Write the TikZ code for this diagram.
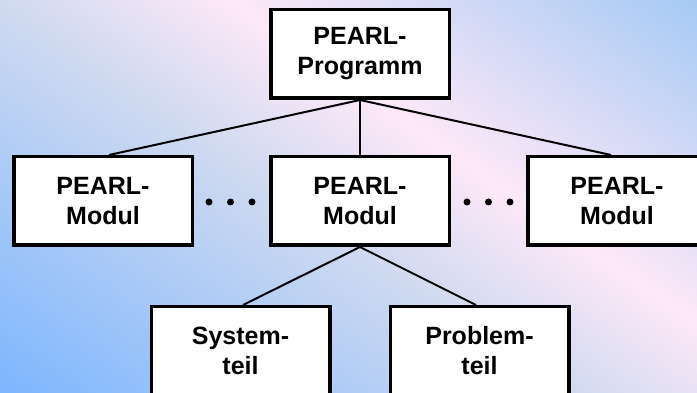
\documentclass[tikz,border=0pt]{standalone}
\usepackage{fontspec}
\setmainfont{Liberation Sans}
\definecolor{bgblue}{RGB}{120,180,255}
\definecolor{bglav}{RGB}{208,218,240}
\definecolor{bgpink}{RGB}{253,232,248}
\definecolor{bgsky}{RGB}{160,200,244}
% one shading along the diagonal: blue - lavender - pink - sky blue
\pgfdeclarehorizontalshading{bgshade}{100bp}{%
  color(0bp)=(bgblue); color(25bp)=(bgblue);
  color(47.67bp)=(bglav); color(56.33bp)=(bgpink);
  color(75bp)=(bgsky); color(100bp)=(bgsky)}
\tikzset{
  unitbox/.style={draw=black, line width=3.5pt, fill=white, minimum width=178.5pt,
    minimum height=88.5pt, inner sep=0pt, align=center,
    font=\fontsize{25pt}{30pt}\selectfont\bfseries},
  link/.style={draw=black, line width=2pt},
  dotmark/.style={circle, fill=black, inner sep=0pt, minimum size=7pt}
}
\begin{document}
\begin{tikzpicture}[x=1pt, y=1pt]
  \useasboundingbox (0,0) rectangle (697,393);
  % diagonal background gradient
  \begin{scope}
    \clip (0,0) rectangle (697,393);
    \begin{scope}[transform canvas={shift={(0pt,393pt)}, rotate=55.4}]
      \shade[shading=bgshade] (-340,-900) rectangle (410,900);
    \end{scope}
  \end{scope}

  % program, modules and module parts
  \node[unitbox] (prog) at (360,339) {PEARL-\\Programm};
  \node[unitbox] (modl) at (103,192) {PEARL-\\Modul};
  \node[unitbox] (modm) at (360,192) {PEARL-\\Modul};
  \node[unitbox] (modr) at (617,192) {PEARL-\\Modul};
  \node[unitbox] (sys)  at (240.5,42) {System-\\teil};
  \node[unitbox] (prob) at (479.5,42) {Problem-\\teil};

  % hierarchy links
  \draw[link] (prog.south) -- ([xshift=6pt]modl.north);
  \draw[link] (prog.south) -- (modm.north);
  \draw[link] (prog.south) -- ([xshift=-6pt]modr.north);
  \draw[link] (modm.south) -- ([xshift=2.5pt]sys.north);
  \draw[link] (modm.south) -- ([xshift=-3.5pt]prob.north);

  % ellipses between the modules
  \node[dotmark] (dl1) at (209,191) {};
  \node[dotmark] (dl2) at (230.5,191) {};
  \node[dotmark] (dl3) at (252,191) {};
  \node[dotmark] (dr1) at (467,191) {};
  \node[dotmark] (dr2) at (488.5,191) {};
  \node[dotmark] (dr3) at (510,191) {};
\end{tikzpicture}
\end{document}
